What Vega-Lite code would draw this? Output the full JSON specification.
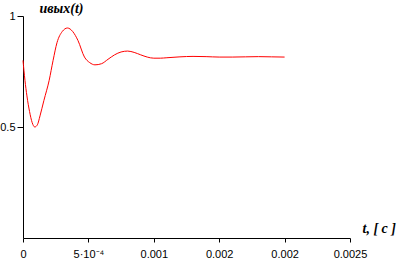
{
  "$schema": "https://vega.github.io/schema/vega-lite/v6.json",
  "autosize": "none",
  "width": 327,
  "height": 222,
  "padding": {"left": 23, "top": 16, "right": 55, "bottom": 30},
  "background": "white",
  "config": {"view": {"stroke": null}},
  "data": {"values": [
    {"t": 0, "u": 0.80},
    {"t": 0.000015, "u": 0.71},
    {"t": 0.00003, "u": 0.64},
    {"t": 0.00005, "u": 0.57},
    {"t": 0.00007, "u": 0.52},
    {"t": 0.00009, "u": 0.50},
    {"t": 0.00011, "u": 0.51},
    {"t": 0.00013, "u": 0.55},
    {"t": 0.00016, "u": 0.62},
    {"t": 0.0002, "u": 0.71},
    {"t": 0.00023, "u": 0.80},
    {"t": 0.00026, "u": 0.88},
    {"t": 0.0003, "u": 0.93},
    {"t": 0.00034, "u": 0.946},
    {"t": 0.00038, "u": 0.93},
    {"t": 0.00042, "u": 0.89},
    {"t": 0.00047, "u": 0.815},
    {"t": 0.00051, "u": 0.79},
    {"t": 0.00055, "u": 0.78},
    {"t": 0.0006, "u": 0.785},
    {"t": 0.00065, "u": 0.805},
    {"t": 0.0007, "u": 0.825},
    {"t": 0.00075, "u": 0.838},
    {"t": 0.0008, "u": 0.842},
    {"t": 0.00085, "u": 0.836},
    {"t": 0.0009, "u": 0.825},
    {"t": 0.00095, "u": 0.815},
    {"t": 0.001, "u": 0.81},
    {"t": 0.00105, "u": 0.81},
    {"t": 0.0011, "u": 0.812},
    {"t": 0.0012, "u": 0.816},
    {"t": 0.0013, "u": 0.818},
    {"t": 0.0014, "u": 0.817},
    {"t": 0.0015, "u": 0.815},
    {"t": 0.0016, "u": 0.815},
    {"t": 0.0017, "u": 0.816},
    {"t": 0.0018, "u": 0.817},
    {"t": 0.0019, "u": 0.816},
    {"t": 0.002, "u": 0.815}
  ]},
  "mark": {"type": "line", "color": "#ff0000", "strokeWidth": 1, "interpolate": "monotone"},
  "encoding": {
    "x": {
      "field": "t", "type": "quantitative",
      "scale": {"domain": [0, 0.0025], "nice": false, "zero": true},
      "axis": {
        "values": [0, 0.0005, 0.001, 0.0015, 0.002, 0.0025],
        "labelExpr": "datum.value == 0 ? '0' : datum.value == 0.0005 ? '5·10⁻⁴' : datum.value == 0.001 ? '0.001' : datum.value == 0.0015 ? '0.002' : datum.value == 0.002 ? '0.002' : '0.0025'",
        "grid": false,
        "domainColor": "black", "tickColor": "black", "tickSize": 4,
        "labelFont": "Liberation Sans", "labelFontSize": 11, "labelColor": "black",
        "labelPadding": 6, "labelFlush": false,
        "title": "t, [ c ]",
        "titleFont": "Liberation Serif", "titleFontStyle": "italic", "titleFontWeight": "bold", "titleFontSize": 14,
        "titleColor": "black",
        "titleAnchor": "start", "titleAlign": "left", "titleBaseline": "bottom",
        "titleX": 339, "titleY": -3
      }
    },
    "y": {
      "field": "u", "type": "quantitative",
      "scale": {"domain": [0, 1], "nice": false},
      "axis": {
        "values": [0.5, 1],
        "labelExpr": "datum.value == 1 ? '1' : '0.5'",
        "grid": false,
        "domainColor": "black", "tickColor": "black", "tickSize": 6,
        "labelFont": "Liberation Sans", "labelFontSize": 11, "labelColor": "black",
        "labelPadding": 2,
        "title": "uвых(t)",
        "titleFont": "Liberation Serif", "titleFontStyle": "italic", "titleFontWeight": "bold", "titleFontSize": 14,
        "titleColor": "black",
        "titleAngle": 0, "titleAlign": "left", "titleBaseline": "bottom",
        "titleX": 16, "titleY": -1
      }
    }
  }
}
